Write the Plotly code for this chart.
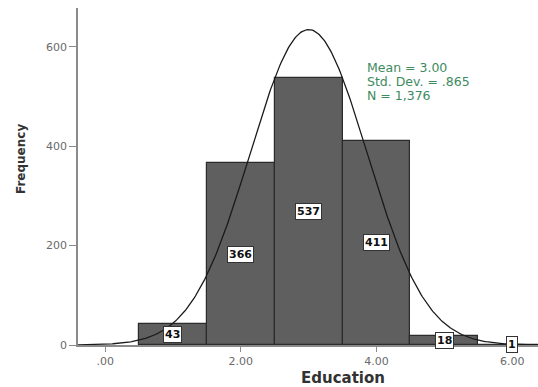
import numpy as np
import plotly.graph_objects as go

# Education histogram (bin width 1) with fitted normal curve
categories = [1, 2, 3, 4, 5, 6]
counts = [43, 366, 537, 411, 18, 1]
mean, std_dev, n_total = 3.00, 0.865, 1376
x_tick_vals = [0, 2, 4, 6]
x_tick_text = [".00", "2.00", "4.00", "6.00"]
y_tick_vals = [0, 200, 400, 600]
stats_lines = [f"Mean = {mean:.2f}", f"Std. Dev. = {str(std_dev)[1:]}", f"N = {n_total:,}"]

FONT = "DejaVu Sans, Verdana, sans-serif"
Y_MAX = 678

fig = go.Figure()

fig.add_trace(go.Bar(
    x=categories, y=counts, width=1.0,
    marker=dict(color="#5f5f5f", line=dict(color="#2b2b2b", width=1.2)),
    hoverinfo="x+y", showlegend=False,
))

# Normal curve scaled to counts
xs = np.linspace(-0.41, 6.4, 400)
ys = n_total * 1.0 / (std_dev * np.sqrt(2 * np.pi)) * np.exp(-0.5 * ((xs - mean) / std_dev) ** 2)
fig.add_trace(go.Scatter(x=xs, y=ys, mode="lines",
                         line=dict(color="#1a1a1a", width=1.3),
                         hoverinfo="skip", showlegend=False))

# Count labels in boxes at half bar height
for c, v in zip(categories, counts):
    fig.add_annotation(
        x=c, y=v / 2, text=f"<b>{v}</b>", showarrow=False,
        font=dict(family=FONT, size=11, color="#111"),
        bgcolor="white", bordercolor="#333", borderwidth=1, borderpad=1,
    )

# Summary statistics, one line per annotation for tight spacing
for i, line in enumerate(stats_lines):
    fig.add_annotation(
        xref="x", yref="paper", x=3.84, y=1 - (59.5 + 14.2 * i) / 337,
        xanchor="left", yanchor="middle", text=line, showarrow=False,
        font=dict(family=FONT, size=12.5, color="#3e8a5e"),
        borderpad=0,
    )

# Axis titles
fig.add_annotation(xref="paper", yref="paper", x=(343 - 78) / 460, y=-33 / 337,
                   text="<b>Education</b>", showarrow=False, xanchor="center", yanchor="middle",
                   font=dict(family=FONT, size=15, color="#333"))
fig.add_annotation(xref="paper", yref="paper", x=-57 / 460, y=1 - (159 - 8) / 337,
                   text="<b>Frequency</b>", showarrow=False, textangle=-90,
                   xanchor="center", yanchor="middle",
                   font=dict(family=FONT, size=12, color="#333"))

fig.update_layout(
    width=538, height=387,
    margin=dict(l=78, r=0, t=8, b=42),
    paper_bgcolor="white", plot_bgcolor="white",
    bargap=0,
    xaxis=dict(
        range=[-0.4, 6.38], tickvals=x_tick_vals, ticktext=x_tick_text,
        showgrid=False, zeroline=False, showline=True, linecolor="#8a8a8a", linewidth=1.5,
        ticks="outside", ticklen=5, tickcolor="#8a8a8a",
        tickfont=dict(family=FONT, size=11, color="#6a6a6a"),
    ),
    yaxis=dict(
        range=[0, Y_MAX], tickvals=y_tick_vals,
        showgrid=False, zeroline=False, showline=True, linecolor="#8a8a8a", linewidth=1.5,
        ticks="outside", ticklen=7, tickcolor="#8a8a8a",
        tickfont=dict(family=FONT, size=11, color="#6a6a6a"),
    ),
)

fig.write_html("out.html")
